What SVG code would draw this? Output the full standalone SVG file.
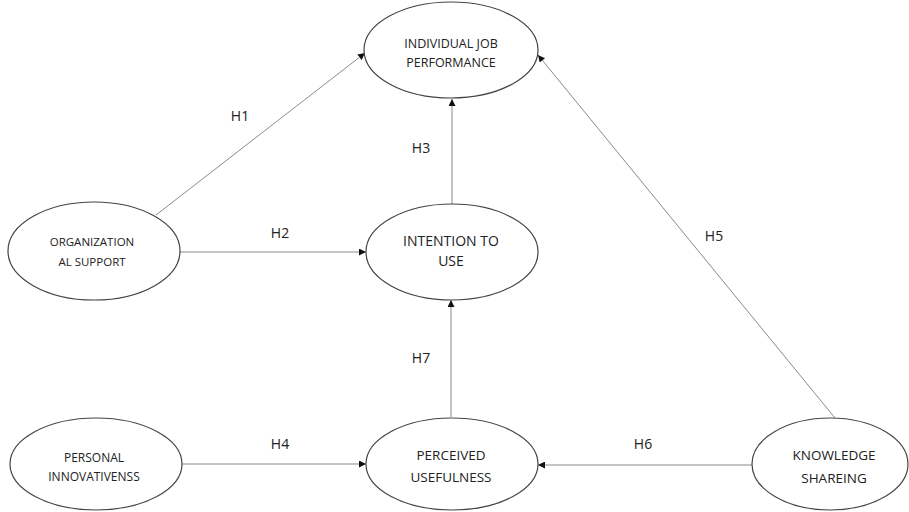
<svg xmlns="http://www.w3.org/2000/svg" width="909" height="512" viewBox="0 0 909 512">
<style>
.node ellipse{fill:#fff;stroke:#444;stroke-width:1.2}
.node text{font-family:"Open Sans","Liberation Sans",Arial,sans-serif;fill:#222;text-anchor:middle}
.edge{stroke:#8a8a8a;stroke-width:1;fill:none;marker-end:url(#ah)}
.lbl{font-family:"Open Sans","Liberation Sans",Arial,sans-serif;font-size:14px;fill:#222;text-anchor:middle}
</style>
<defs>
<marker id="ah" viewBox="0 0 10 10" refX="10" refY="5" markerWidth="7" markerHeight="7" markerUnits="userSpaceOnUse" orient="auto">
<path d="M0,0 L10,5 L0,10 z" fill="#111"/>
</marker>
</defs>
<rect width="909" height="512" fill="#fff"/>
<g id="connectors">
<line class="edge" x1="156" y1="215" x2="365" y2="53"/>
<line class="edge" x1="180" y1="252" x2="366" y2="252"/>
<line class="edge" x1="452" y1="204" x2="452" y2="99"/>
<line class="edge" x1="182" y1="464" x2="366" y2="464"/>
<line class="edge" x1="835" y1="418" x2="538" y2="55"/>
<line class="edge" x1="752" y1="465" x2="538" y2="465"/>
<line class="edge" x1="451" y1="417" x2="451" y2="300"/>
<text class="lbl" x="240" y="121">H1</text>
<text class="lbl" x="280" y="238">H2</text>
<text class="lbl" x="421" y="153">H3</text>
<text class="lbl" x="280" y="449">H4</text>
<text class="lbl" x="714" y="241">H5</text>
<text class="lbl" x="643" y="449">H6</text>
<text class="lbl" x="421" y="363">H7</text>
</g>
<g id="individual-job-performance" class="node">
<ellipse cx="451" cy="50" rx="87" ry="48"/>
<text x="451" y="48" font-size="12.5">INDIVIDUAL JOB</text>
<text x="451" y="67" font-size="12.5">PERFORMANCE</text>
</g>
<g id="organizational-support" class="node">
<ellipse cx="94" cy="251" rx="86" ry="49"/>
<text x="92" y="246" font-size="11.5">ORGANIZATION</text>
<text x="92" y="266" font-size="11.5">AL SUPPORT</text>
</g>
<g id="intention-to-use" class="node">
<ellipse cx="452" cy="252" rx="86" ry="48"/>
<text x="451" y="246" font-size="14">INTENTION TO</text>
<text x="451" y="266" font-size="14">USE</text>
</g>
<g id="personal-innovativenss" class="node">
<ellipse cx="96" cy="464" rx="86" ry="46"/>
<text x="94" y="462" font-size="12">PERSONAL</text>
<text x="94" y="481" font-size="12">INNOVATIVENSS</text>
</g>
<g id="perceived-usefulness" class="node">
<ellipse cx="452" cy="464" rx="86" ry="46"/>
<text x="451" y="460" font-size="13.5">PERCEIVED</text>
<text x="451" y="482" font-size="13.5">USEFULNESS</text>
</g>
<g id="knowledge-shareing" class="node">
<ellipse cx="830" cy="464" rx="78" ry="46"/>
<text x="834" y="460" font-size="13.5">KNOWLEDGE</text>
<text x="834" y="483" font-size="13.5">SHAREING</text>
</g>
</svg>
